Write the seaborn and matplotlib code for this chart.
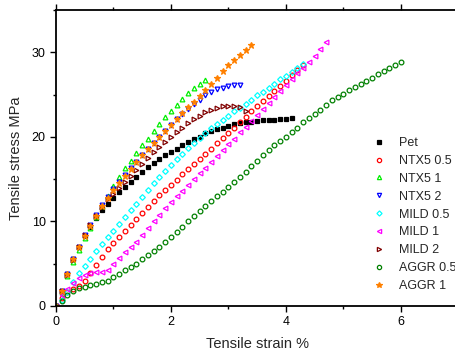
import matplotlib
matplotlib.use("Agg")
import matplotlib.pyplot as plt
import seaborn as sns
import pandas as pd

# strain grid (%), sampled every 0.1
STRAIN = [0.0, 0.1, 0.2, 0.3, 0.4, 0.5, 0.6, 0.7, 0.8, 0.9,
          1.0, 1.1, 1.2, 1.3, 1.4, 1.5, 1.6, 1.7, 1.8, 1.9,
          2.0, 2.1, 2.2, 2.3, 2.4, 2.5, 2.6, 2.7, 2.8, 2.9,
          3.0, 3.1, 3.2, 3.3, 3.4, 3.5, 3.6, 3.7, 3.8, 3.9,
          4.0, 4.1, 4.2, 4.3, 4.4, 4.5, 4.6, 4.7, 4.8, 4.9,
          5.0, 5.1, 5.2, 5.3, 5.4, 5.5, 5.6, 5.7, 5.8, 5.9, 6.0]

# stress (MPa) for each sample
pet = [0, 1.8, 3.8, 5.5, 7.0, 8.3, 9.4, 10.4, 11.3, 12.1, 12.8, 13.5, 14.1, 14.7,
       15.3, 15.9, 16.4, 16.9, 17.4, 17.8, 18.2, 18.6, 19.0, 19.4, 19.7, 20.0,
       20.4, 20.7, 20.9, 21.1, 21.3, 21.5, 21.6, 21.7, 21.8, 21.9, 21.95, 22.0,
       22.05, 22.1, 22.15, 22.2]
ntx5_05 = [0, 1.0, 1.6, 2.0, 2.4, 3.0, 3.9, 4.9, 5.8, 6.7, 7.5, 8.2, 8.9, 9.6,
           10.3, 11.0, 11.7, 12.4, 13.1, 13.7, 14.3, 14.9, 15.6, 16.2, 16.8,
           17.4, 18.0, 18.6, 19.3, 19.9, 20.5, 21.1, 21.8, 22.4, 23.0, 23.6,
           24.2, 24.8, 25.4, 26.0, 26.6, 27.3, 27.9, 28.5]
ntx5_1 = [0, 1.7, 3.5, 5.2, 6.6, 8.0, 9.2, 10.5, 11.8, 13.0, 14.2, 15.3, 16.3,
          17.2, 18.1, 19.0, 19.8, 20.7, 21.5, 22.3, 23.0, 23.8, 24.5, 25.2,
          25.8, 26.3, 26.7]
ntx5_2 = [0, 1.8, 3.8, 5.5, 7.0, 8.4, 9.6, 10.8, 11.9, 12.9, 13.8, 14.7, 15.5,
          16.3, 17.0, 17.8, 18.6, 19.3, 20.0, 20.7, 21.4, 22.1, 22.7, 23.3,
          23.9, 24.4, 24.9, 25.3, 25.6, 25.8, 26.0, 26.1, 26.1]
mild_05 = [0, 0.7, 1.6, 2.8, 3.9, 4.7, 5.6, 6.5, 7.3, 8.1, 8.9, 9.7, 10.5, 11.3,
           12.1, 12.9, 13.7, 14.5, 15.3, 16.0, 16.7, 17.4, 18.0, 18.7, 19.3,
           19.9, 20.5, 21.0, 21.5, 22.0, 22.5, 23.0, 23.4, 23.9, 24.4, 24.9,
           25.3, 25.8, 26.3, 26.8, 27.2, 27.7, 28.2, 28.6]
mild_1 = [0, 1.3, 2.0, 2.7, 3.3, 3.7, 3.9, 4.0, 4.0, 4.2, 5.0, 5.7, 6.4, 7.0,
          7.6, 8.4, 9.2, 10.0, 10.8, 11.6, 12.3, 13.0, 13.6, 14.3, 15.0, 15.7,
          16.3, 17.0, 17.7, 18.4, 19.1, 19.8, 20.6, 21.2, 21.9, 22.6, 23.3,
          24.0, 24.7, 25.4, 26.1, 26.8, 27.5, 28.2, 28.9, 29.6, 30.4, 31.2]
mild_2 = [0, 1.8, 3.7, 5.4, 7.0, 8.4, 9.6, 10.7, 11.7, 12.6, 13.3, 14.0, 14.7,
          15.4, 16.1, 16.8, 17.5, 18.2, 18.8, 19.4, 20.0, 20.6, 21.1, 21.6,
          22.1, 22.5, 22.9, 23.2, 23.4, 23.6, 23.7, 23.7, 23.5, 23.0]
aggr_05 = [0, 0.6, 1.3, 1.8, 2.1, 2.3, 2.5, 2.6, 2.8, 3.0, 3.4, 3.8, 4.2, 4.6,
           5.0, 5.5, 6.0, 6.5, 7.0, 7.6, 8.2, 8.8, 9.4, 10.0, 10.6, 11.2, 11.8,
           12.4, 13.0, 13.5, 14.1, 14.7, 15.3, 15.9, 16.5, 17.1, 17.8, 18.4,
           19.0, 19.5, 20.0, 20.6, 21.1, 21.7, 22.2, 22.7, 23.2, 23.8, 24.3,
           24.7, 25.1, 25.5, 25.9, 26.3, 26.6, 27.0, 27.4, 27.8, 28.1, 28.5, 28.9]
aggr_1 = [0, 1.8, 3.8, 5.5, 7.0, 8.3, 9.5, 10.7, 11.8, 12.8, 13.7, 14.6, 15.4,
          16.2, 17.0, 17.8, 18.6, 19.3, 20.0, 20.7, 21.4, 22.1, 22.8, 23.5,
          24.1, 24.8, 25.5, 26.3, 27.0, 27.8, 28.5, 29.1, 29.7, 30.3, 30.9]

LABELS = ["Pet", "NTX5 0.5", "NTX5 1", "NTX5 2", "MILD 0.5", "MILD 1",
          "MILD 2", "AGGR 0.5", "AGGR 1"]
SERIES = [pet, ntx5_05, ntx5_1, ntx5_2, mild_05, mild_1, mild_2, aggr_05, aggr_1]

X_TICKS = [0, 2, 4, 6]
Y_TICKS = [0, 10, 20, 30]

COLORS = ["#000000", "#ff0000", "#00ee00", "#0000ff", "#00ffff", "#ff00ff",
          "#800000", "#008000", "#ff8000"]
MARKERS = ["s", "o", "^", "v", "D", "<", ">", "o", "*"]
FILLED = [True, False, False, False, False, False, False, False, True]

sns.set_style("ticks")
plt.rcParams["font.family"] = ["Liberation Sans", "DejaVu Sans"]

fig = plt.figure(figsize=(4.56, 3.51), dpi=100)
ax = fig.add_axes([56 / 456, 45 / 351, 402.5 / 456, 296 / 351])

for lab, ys, col, mk, fl in zip(LABELS, SERIES, COLORS, MARKERS, FILLED):
    df = pd.DataFrame({"strain": STRAIN[:len(ys)], "stress": ys})
    ms = 3.4
    if mk == "D":
        ms = 2.9
    if mk == "*":
        ms = 4.8
    if mk == "s":
        ms = 3.2
    sns.lineplot(data=df, x="strain", y="stress", ax=ax, sort=False,
                 estimator=None, linestyle="", marker=mk, markersize=ms,
                 markerfacecolor=col if fl else "none", markeredgecolor=col,
                 markeredgewidth=0.9, color=col, label=lab)

ax.set_xlim(0, 7)
ax.set_ylim(0, 35)
ax.set_xticks(X_TICKS)
ax.set_yticks(Y_TICKS)
ax.set_xticks([1, 3, 5, 7], minor=True)
ax.set_yticks([5, 15, 25, 35], minor=True)
ax.tick_params(which="both", direction="out", top=True, right=True,
               labelsize=9, width=1.0, colors="black")
ax.tick_params(which="major", length=4.5, pad=3)
ax.tick_params(which="minor", length=2.5)
for sp in ax.spines.values():
    sp.set_visible(True)
    sp.set_linewidth(1.3)
    sp.set_color("black")

ax.set_xlabel("Tensile strain %", fontsize=10.5, labelpad=6)
ax.set_ylabel("Tensile stress MPa", fontsize=10.5, labelpad=6)

leg = ax.legend(loc="upper left", bbox_to_anchor=(374 / 456, 1 - 137 / 351),
                bbox_transform=fig.transFigure, frameon=False, fontsize=9,
                handlelength=0.8, handletextpad=1.2, labelspacing=0.47,
                borderaxespad=0, borderpad=0, markerscale=0.9)

fig.savefig("out.png", dpi=100)
